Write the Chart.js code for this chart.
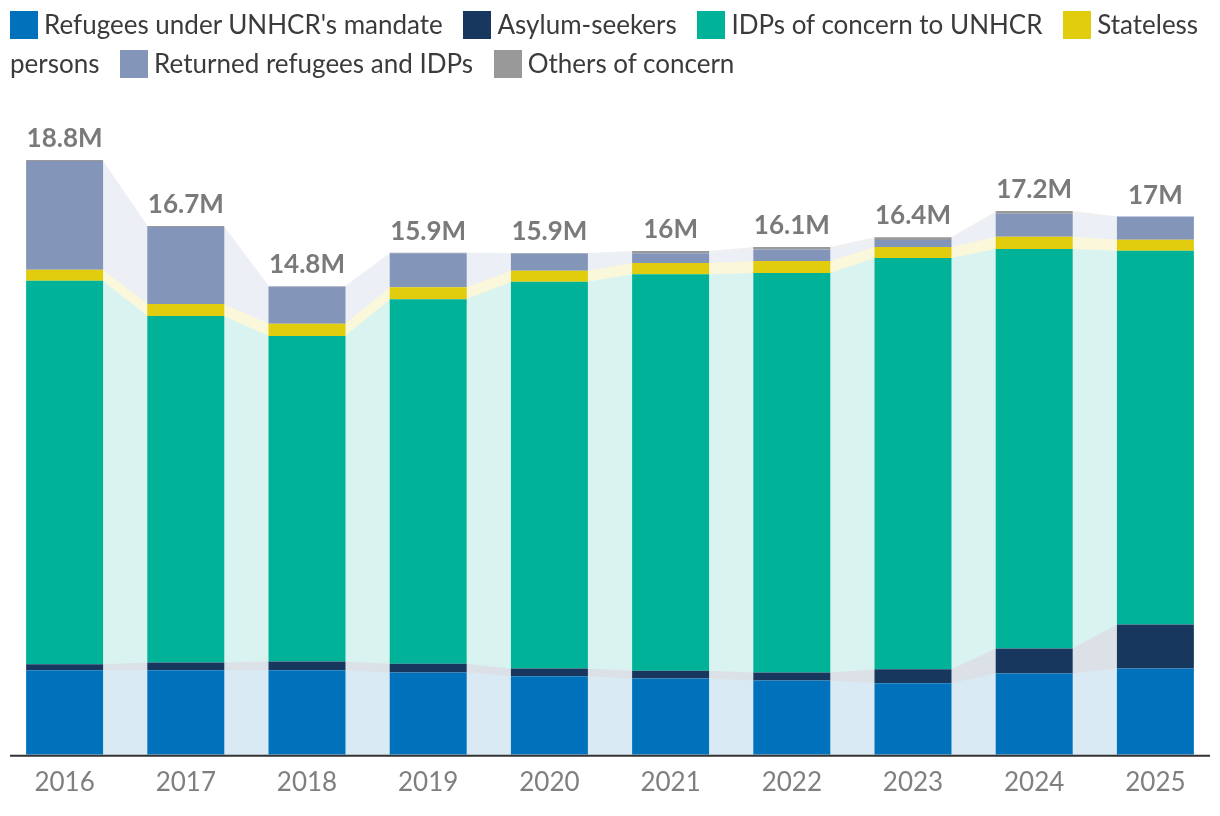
<!DOCTYPE html>
<html><head><meta charset="utf-8">
<script src="https://cdn.jsdelivr.net/npm/chart.js@4.4.1/dist/chart.umd.min.js"></script>
<style>
html,body{margin:0;padding:0;background:#fff;}
#wrap{position:relative;width:1220px;height:816px;overflow:hidden;}
canvas{position:absolute;left:0;top:0;}
#legend{position:absolute;left:10px;top:5px;width:1210px;font-family:Lato,sans-serif;font-size:26px;line-height:39px;color:#3b3b3b;}
.item{margin-right:14px;}
.nw{white-space:nowrap;}
.sw{display:inline-block;width:28px;height:28px;vertical-align:-5px;margin-right:6px;}
</style></head>
<body>
<div id="wrap"><canvas id="c" width="1220" height="816"></canvas><div id="legend"></div></div>
<script>
// ---- data (millions) ----
const years = ['2016','2017','2018','2019','2020','2021','2022','2023','2024','2025'];
const refugees      = [2.67, 2.67, 2.67, 2.60, 2.48, 2.41, 2.35, 2.26, 2.57, 2.73];
const asylumSeekers = [0.19, 0.25, 0.28, 0.28, 0.25, 0.25, 0.25, 0.44, 0.79, 1.39];
const idps          = [12.12, 10.95, 10.29, 11.52, 12.22, 12.53, 12.63, 13.00, 12.63, 11.81];
const stateless     = [0.35, 0.38, 0.38, 0.38, 0.35, 0.35, 0.38, 0.35, 0.38, 0.35];
const returned      = [3.44, 2.43, 1.17, 1.07, 0.54, 0.31, 0.36, 0.22, 0.73, 0.73];
const others        = [0.03, 0.03, 0.02, 0.02, 0.02, 0.07, 0.08, 0.09, 0.09, 0.00];
const totalLabels   = ['18.8M','16.7M','14.8M','15.9M','15.9M','16M','16.1M','16.4M','17.2M','17M'];
const seriesNames   = ["Refugees under UNHCR's mandate", 'Asylum-seekers', 'IDPs of concern to UNHCR', 'Stateless persons', 'Returned refugees and IDPs', 'Others of concern'];
const seriesColors  = ['#0072bc', '#18375f', '#00b398', '#e1cc0d', '#8395b9', '#999999'];
const seriesValues  = [refugees, asylumSeekers, idps, stateless, returned, others];

// ---- legend (HTML so that text can wrap like the reference) ----
const leg = document.getElementById('legend');
seriesNames.forEach((n, k) => {
  const sp = n.indexOf(' ');
  const first = sp > 0 ? n.slice(0, sp) : n;
  const rest = sp > 0 ? n.slice(sp) : '';
  const item = document.createElement('span');
  item.className = 'item';
  item.innerHTML = '<span class="nw"><span class="sw" style="background:' + seriesColors[k] + '"></span>' + first + '</span>' + rest;
  leg.appendChild(item);
  leg.appendChild(document.createTextNode(' '));
});

function lighten(hex, a) {
  const r = parseInt(hex.slice(1,3),16), g = parseInt(hex.slice(3,5),16), b = parseInt(hex.slice(5,7),16);
  const m = v => Math.round(255 * (1 - a) + v * a);
  return 'rgb(' + m(r) + ',' + m(g) + ',' + m(b) + ')';
}

const bandPlugin = {
  id: 'bands',
  beforeDatasetsDraw(chart) {
    const ctx = chart.ctx;
    const n = chart.data.labels.length;
    const metas = chart.data.datasets.map((d, k) => chart.getDatasetMeta(k));
    const base = metas[0];
    ctx.save();
    for (let k = metas.length - 1; k >= 0; k--) {
      ctx.fillStyle = lighten(seriesColors[k], 0.15);
      for (let i = 0; i < n - 1; i++) {
        const a = metas[k].data[i], b = metas[k].data[i + 1];
        const a0 = base.data[i], b0 = base.data[i + 1];
        const xa = a.x + a.width / 2, xb = b.x - b.width / 2;
        ctx.beginPath();
        ctx.moveTo(xa - 0.5, a.y);
        ctx.lineTo(xb + 0.5, b.y);
        ctx.lineTo(xb + 0.5, b0.base);
        ctx.lineTo(xa - 0.5, a0.base);
        ctx.closePath();
        ctx.fill();
      }
    }
    ctx.restore();
  },
  afterDatasetsDraw(chart) {
    const ctx = chart.ctx;
    const n = chart.data.labels.length;
    const ca = chart.chartArea;
    ctx.save();
    // total labels
    ctx.font = 'bold 26px Lato';
    ctx.fillStyle = '#7a7a7a';
    ctx.textAlign = 'center';
    ctx.textBaseline = 'alphabetic';
    for (let i = 0; i < n; i++) {
      let top = Infinity, x = 0;
      chart.data.datasets.forEach((d, k) => {
        const el = chart.getDatasetMeta(k).data[i];
        if (el.y < top) { top = el.y; x = el.x; }
      });
      ctx.fillText(totalLabels[i], x, top - 13);
    }
    // axis line
    ctx.strokeStyle = '#333333';
    ctx.lineWidth = 2;
    ctx.beginPath();
    ctx.moveTo(ca.left + 6, ca.bottom + 1);
    ctx.lineTo(ca.right - 6, ca.bottom + 1);
    ctx.stroke();
    ctx.restore();
  }
};

new Chart(document.getElementById('c'), {
  type: 'bar',
  data: {
    labels: years,
    datasets: seriesValues.map((vals, k) => ({
      label: seriesNames[k],
      data: vals,
      backgroundColor: seriesColors[k],
      borderWidth: 0,
      barPercentage: 0.635,
      categoryPercentage: 1.0
    }))
  },
  options: {
    responsive: false,
    animation: false,
    layout: { padding: { left: 4, right: 4, top: 122, bottom: 6 } },
    plugins: { legend: { display: false }, tooltip: { enabled: false } },
    scales: {
      x: {
        stacked: true,
        grid: { display: false, drawTicks: false },
        border: { display: false },
        ticks: { font: { family: 'Lato', size: 26 }, color: '#7f7f7f', padding: 12 }
      },
      y: { stacked: true, display: false, min: 0, max: 20 }
    }
  },
  plugins: [bandPlugin]
});
</script>
</body></html>
